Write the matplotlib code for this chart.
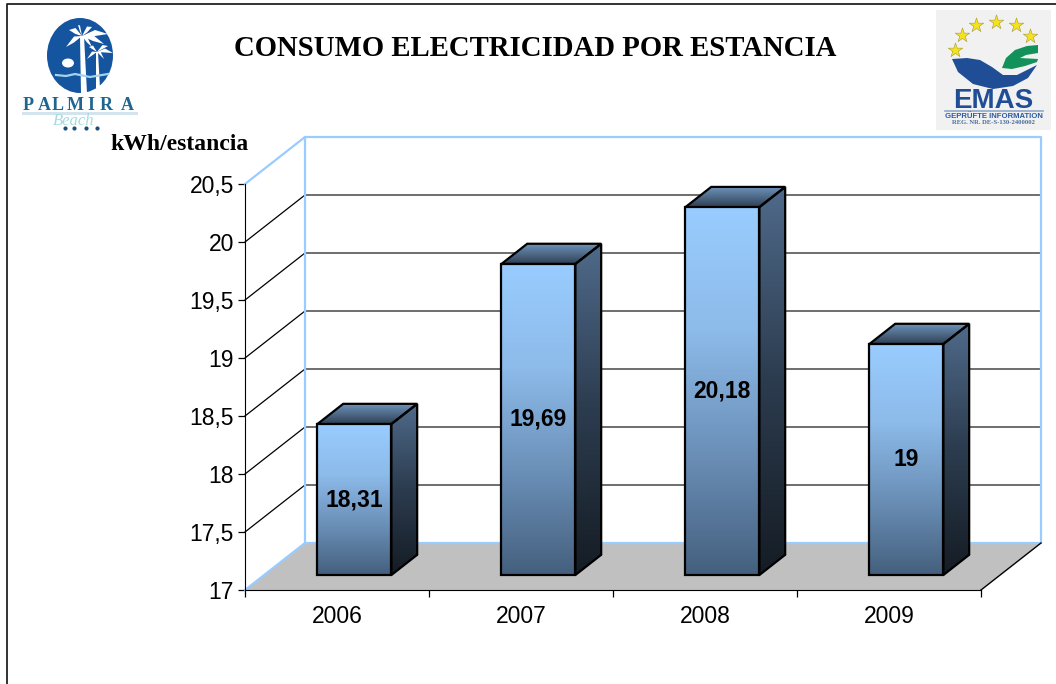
import matplotlib
matplotlib.use('Agg')
import matplotlib.pyplot as plt
import numpy as np
from matplotlib.colors import LinearSegmentedColormap
from matplotlib.patches import Ellipse, Polygon, Rectangle

years = ['2006', '2007', '2008', '2009']
values = [18.31, 19.69, 20.18, 19]
value_labels = ['18,31', '19,69', '20,18', '19']
y_ticks = [17, 17.5, 18, 18.5, 19, 19.5, 20, 20.5]
y_tick_labels = ['17', '17,5', '18', '18,5', '19', '19,5', '20', '20,5']

W, H = 1056, 684
# depth of the fake 3d box in data units
DX = 60 / 184
DY = 47 / 116
BAR_W = 0.402
BAR_F = 0.29   # how far in the bars stand from the front
BAR_D = 0.43   # bar depth as a share of the box depth

front_cm = LinearSegmentedColormap.from_list('f', ['#99CCFF', '#8DBBEA', '#6B90B8', '#45607E'])
side_cm = LinearSegmentedColormap.from_list('s', ['#4F6A8A', '#2C3C4F', '#151C24'])
top_cm = LinearSegmentedColormap.from_list('t', ['#7096BE', '#2F4055'])


def shift(x, y, f):
    return x + f * DX, y + f * DY


def grad(ax, poly, cmap, z):
    xs = [p[0] for p in poly]
    ys = [p[1] for p in poly]
    im = ax.imshow(np.linspace(0, 1, 200).reshape(-1, 1), cmap=cmap, aspect='auto',
                   extent=[min(xs), max(xs), min(ys), max(ys)], zorder=z, origin='upper')
    clip = Polygon(poly, closed=True, transform=ax.transData, fc='none', ec='none')
    im.set_clip_path(clip)
    ax.add_patch(Polygon(poly, closed=True, fc='none', ec='black', lw=1.6, zorder=z + 0.1,
                         joinstyle='miter'))


def frond(ov, base, tip, width):
    # one palm leaf, bent a little downwards
    bx, by = base
    tx, ty = tip
    mx, my = (bx + tx) / 2, (by + ty) / 2 - 2
    ov.add_patch(Polygon([(bx, by), (mx, my - width / 2), (tx, ty), (mx, my + width / 2)],
                         fc='white', ec='none'))


fig = plt.figure(figsize=(W / 100, H / 100), dpi=100, facecolor='white')
ax = fig.add_axes([245 / W, (H - 590) / H, 736 / W, 406 / H])
ax.patch.set_visible(False)

# floor
ax.add_patch(Polygon([(0, 17), shift(0, 17, 1), shift(4, 17, 1), (4, 17)], closed=True,
                     fc='#C0C0C0', ec='none', zorder=1, clip_on=False))

# walls and grid
wall = '#99CCFF'
for t in y_ticks[1:-1]:
    x0, y0 = shift(0, t, 1)
    x1, y1 = shift(4, t, 1)
    ax.plot([x0, x1], [y0, y1], color='#555555', lw=1.2, zorder=2, clip_on=False)
    ax.plot([0, x0], [t, y0], color='black', lw=0.9, zorder=2, clip_on=False)
bx0, by0 = shift(0, 17, 1)
bx1, by1 = shift(4, 20.5, 1)
ax.plot([0, bx0, bx0, bx1, bx1, bx0], [20.5, by1, by0, by0, by1, by1], color=wall, lw=1.6,
        zorder=3, clip_on=False)
ax.plot([0, bx0], [17, by0], color=wall, lw=1.6, zorder=3, clip_on=False)
ax.plot([4, bx1], [17, by0], color='black', lw=1.0, zorder=3, clip_on=False)

# bars, back to front
for i, v in enumerate(values):
    fx0, base = shift(i + 0.5 - BAR_W / 2, 17, BAR_F)
    fx1 = fx0 + BAR_W
    base = 17 + 15 / 116
    top = v + 14 / 116
    ddx, ddy = BAR_D * DX, BAR_D * DY
    grad(ax, [(fx1, base), (fx1 + ddx, base + ddy), (fx1 + ddx, top + ddy), (fx1, top)],
         side_cm, 5)
    grad(ax, [(fx0, top), (fx1, top), (fx1 + ddx, top + ddy), (fx0 + ddx, top + ddy)],
         top_cm, 5)
    grad(ax, [(fx0, base), (fx1, base), (fx1, top), (fx0, top)], front_cm, 6)
    ax.text((fx0 + fx1) / 2, (base + top) / 2, value_labels[i], ha='center', va='center',
            family='Liberation Sans', fontweight='bold', fontsize=16.5, color='black', zorder=8)

ax.set_xlim(0, 4)
ax.set_ylim(17, 20.5)
ax.set_yticks(y_ticks)
ax.set_yticklabels(y_tick_labels, family='Liberation Sans', fontsize=16.5)
ax.set_xticks(range(5))
ax.set_xticklabels([])
ax.set_xticks([i + 0.5 for i in range(4)], minor=True)
ax.set_xticklabels(years, minor=True, family='Liberation Sans', fontsize=16.5)
ax.tick_params(axis='x', which='minor', length=0, pad=11)
ax.tick_params(axis='x', which='major', length=5, width=0.9)
ax.tick_params(axis='y', length=5, width=0.9, pad=3)
ax.spines['top'].set_visible(False)
ax.spines['right'].set_visible(False)
ax.spines['left'].set_color('black')
ax.spines['bottom'].set_color('black')
for s in ax.spines.values():
    s.set_zorder(9)

# overlay in pixel coordinates: border, headings and the two logos
ov = fig.add_axes([0, 0, 1, 1], zorder=5)
ov.set_xlim(0, W)
ov.set_ylim(H, 0)
ov.axis('off')

ov.plot([7, 7, W], [H, 4, 4], color='#222222', lw=1.3)
ov.text(535, 48, 'CONSUMO ELECTRICIDAD POR ESTANCIA', ha='center', va='center',
        family='Liberation Serif', fontweight='bold', fontsize=20.7)
ov.text(179, 145, 'kWh/estancia', ha='center', va='center', family='Liberation Serif',
        fontweight='bold', fontsize=17)

# palmira logo
blue = '#15549F'
ov.add_patch(Ellipse((80, 55.5), 66, 75, fc=blue, ec='none'))
ov.add_patch(Ellipse((68, 63), 12, 9, fc='white', ec='none'))
ov.plot([56, 66, 75, 90, 108], [75, 76, 74, 77, 74], color='#9FD4EA', lw=1.6)
ov.add_patch(Polygon([(80, 36), (84, 36), (87, 93), (81, 93)], fc='white', ec='none'))
ov.add_patch(Polygon([(96, 52), (98, 52), (100, 88), (96, 88)], fc='white', ec='none'))
for tip in [(66, 47), (69, 30), (78, 25), (92, 27), (108, 34), (104, 44), (92, 47)]:
    frond(ov, (82, 36), tip, 6)
for tip in [(87, 59), (89, 47), (97, 43), (108, 46), (113, 53), (104, 59)]:
    frond(ov, (97, 52), tip, 4)
ov.add_patch(Rectangle((22, 112), 116, 3, fc='#D4E4EE', ec='none'))
for x, letter in zip([28, 44, 58, 75, 91, 106, 127], 'PALMIRA'):
    ov.text(x, 105.5, letter, ha='center', va='center', family='Liberation Serif',
            fontweight='bold', fontsize=13, color='#1E6590')
ov.text(74, 121, 'Beach', ha='center', va='center', family='Liberation Serif', style='italic',
        fontsize=12, color='#A5DCE0')
ov.scatter([65, 74, 86, 97], [128, 128, 128, 128], s=9, color='#1E4F78', marker='o', lw=0)

# emas logo
ov.add_patch(Rectangle((936, 10), 115, 120, fc='#F1F1F1', ec='none'))
ov.scatter([955, 962, 976, 996, 1016, 1030], [50, 35, 25, 22, 25, 36], marker='*', s=120,
           color='#F4E21C', edgecolors='#A89A40', linewidths=0.4, zorder=3)
ov.add_patch(Polygon([(952, 59), (967, 58), (980, 60), (992, 67), (1003, 75), (1017, 75),
                      (1037, 65), (1028, 78), (1013, 86), (993, 89), (973, 84), (958, 72)],
                     fc='#1F4E96', ec='none'))
ov.add_patch(Polygon([(1002, 68), (1006, 58), (1015, 50), (1027, 46), (1038, 45), (1038, 53),
                      (1026, 55), (1020, 58), (1038, 59), (1037, 62), (1025, 66), (1012, 69)],
                     fc='#12925A', ec='none'))
ov.text(993, 101, 'EMAS', ha='center', va='center', family='Liberation Sans', fontweight='bold',
        fontsize=20, color='#1F4E96')
ov.plot([945, 1043], [111, 111], color='#8FA8C8', lw=1.2)
ov.text(994, 116, 'GEPRÜFTE INFORMATION', ha='center', va='center', family='Liberation Sans',
        fontweight='bold', fontsize=5.6, color='#2B5BA0')
ov.text(994, 122.5, 'REG. NR. DE-S-130-2400002', ha='center', va='center',
        family='Liberation Serif', fontweight='bold', fontsize=4.8, color='#4A6C9C')

fig.savefig('out.png', dpi=100)
